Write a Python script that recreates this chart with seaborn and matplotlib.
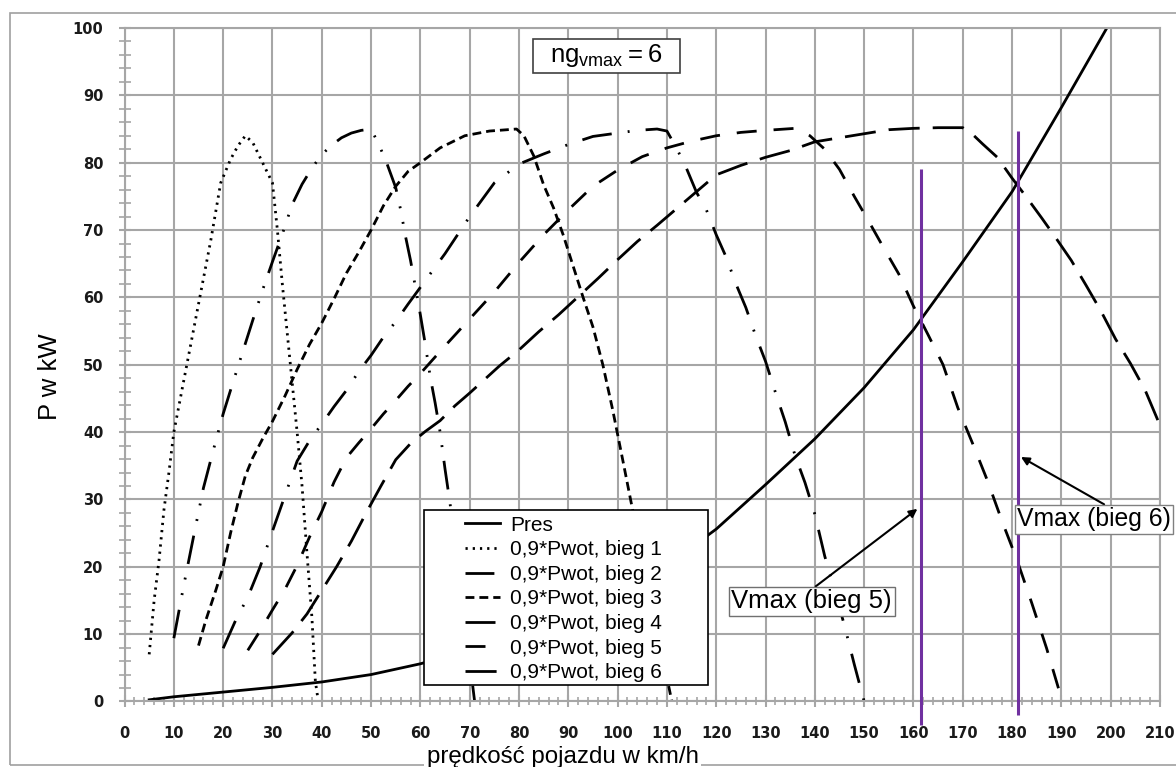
import matplotlib
matplotlib.use('Agg')
import matplotlib.pyplot as plt
from matplotlib.patches import Rectangle
from matplotlib.ticker import MultipleLocator
import seaborn as sns

plt.rcParams['font.family'] = ['Liberation Sans', 'DejaVu Sans']

# opory ruchu
v_pres = [5, 10, 20, 30, 40, 50, 60, 70, 80, 90, 100, 110, 120, 130, 140, 150, 160, 170, 180, 190, 200]
p_pres = [0.25, 0.7, 1.4, 2.1, 2.9, 4.0, 5.6, 7.6, 10, 12.8, 16.2, 20.2, 25.6, 32.2, 39, 46.6, 55.2, 65.3, 75.7, 88.2, 101]

# 0,9*Pwot dla kolejnych biegow
v_b1 = [5, 6, 7, 8, 9, 10, 12.5, 15, 17.5, 19.5, 21.5, 23, 24.5, 26, 28, 30, 31, 32, 33.5, 35, 36, 37, 38, 38.7, 39.3]
p_b1 = [7, 15, 21, 28.5, 34, 40, 49.5, 59, 68.5, 77, 80.5, 82.5, 84, 83, 80, 77, 70, 62, 51, 40, 32, 22, 12.5, 3, 0]

v_b2 = [10, 12, 14, 16, 18, 20, 22, 24, 26, 28, 30, 32, 34, 36, 38, 40, 42, 44, 46, 48, 50,
        51.5, 53, 55, 56, 57, 58, 59, 60, 61, 62, 63, 64, 65, 66, 68.5, 71]
p_b2 = [9.4, 17.2, 24.5, 31.7, 37.3, 42.7, 47.4, 52, 56.6, 61.1, 65.3, 69.4, 73.8, 76.8, 79.2, 81.2, 82.6, 83.7, 84.4, 84.8, 85,
        82.8, 80.3, 76.3, 73, 69, 65.5, 61.5, 57.4, 53, 48.2, 44.3, 40, 34.5, 29.5, 15, 0]

v_b3 = [15, 16.5, 18.5, 20, 21.5, 23, 24.5, 26, 28, 30, 32.5, 35, 37.5, 40, 42.5, 45, 47.5, 50, 52.5, 55, 57.5, 60,
        64, 69, 74, 79.5, 81, 83, 85, 87, 89, 91, 93, 95, 97, 99, 101, 103, 105, 107, 109, 111]
p_b3 = [8.3, 12.1, 16.5, 20, 25, 29.5, 33.5, 36.2, 39, 41.6, 45.3, 49.3, 53, 56.2, 59.8, 63.6, 66.7, 70, 73.6, 76.5, 78.7, 80,
        82.2, 84, 84.7, 85, 84, 81, 76.7, 73.3, 69.2, 64.6, 60, 55.6, 50, 43.3, 36, 28.6, 21.3, 14.2, 7.1, 0]

v_b4 = [20, 22.5, 25, 27.5, 30, 32.5, 35, 37.5, 40, 42.5, 45, 47.5, 50, 52.5, 55, 57.5, 60, 65, 70, 75, 80, 85, 90, 95,
        100, 104, 108, 110, 112, 114, 116, 118, 120, 122, 124, 126, 128, 130, 132, 134, 136, 138, 140, 142, 144, 146, 148, 150]
p_b4 = [7.9, 12, 15.5, 20, 25.3, 30.5, 35.7, 38.7, 41.2, 43.8, 46.2, 49, 51.4, 54.1, 56.4, 59, 61.5, 66.5, 72, 77, 79.8, 81.3, 82.7, 83.9,
        84.4, 84.8, 85, 84.7, 82.1, 79.1, 75.6, 73, 69.3, 66, 62, 58.5, 54.3, 50.5, 45.9, 41.5, 36.5, 32.5, 27.8, 21.6, 16.5, 11.3, 5.5, 0]

v_b5 = [25, 27.5, 30, 32.5, 35, 37.5, 40, 42.5, 45, 47.5, 50, 52.5, 55, 57.5, 60, 65, 70, 75, 80, 85, 90, 95, 100, 105, 110,
        115, 120, 125, 130, 136, 139, 142, 145, 148, 151, 154, 157, 160, 163, 166, 169, 172, 175, 178, 181, 184, 187, 190]
p_b5 = [7.6, 10.5, 13.6, 16.6, 20.2, 24.4, 28.2, 32.6, 36.2, 38.4, 40.5, 42.7, 44.7, 46.8, 48.7, 52.8, 56.8, 60.8, 65.2, 69.3, 73, 76.5, 78.9, 80.9, 82.2,
        83.2, 84, 84.5, 84.8, 85.1, 84, 82, 79, 75, 71.2, 67.3, 63.5, 58.7, 54.4, 50, 43.6, 38.3, 32.8, 26.7, 21, 14.6, 7.9, 0.5]

v_b6 = [30, 34, 37, 40, 43, 46, 49, 52, 55, 58, 61, 64, 67, 70, 73, 76, 80, 84, 88, 92, 96, 100, 104, 108, 112, 116, 120,
        125, 130, 135, 140, 145, 150, 155, 160, 165, 170, 172, 174, 177, 180, 183, 186, 189, 192, 195, 198, 201, 204, 207, 210]
p_b6 = [7, 10.2, 13, 16.5, 20, 23.8, 28, 32, 35.9, 38.3, 40.1, 41.7, 43.9, 45.8, 47.8, 49.8, 52.2, 54.9, 57.4, 60.1, 62.8, 65.6, 68.3, 70.7, 73.2, 75.7, 78.2,
        79.6, 80.8, 81.8, 83.1, 83.7, 84.3, 84.9, 85.1, 85.2, 85.2, 84.2, 82.8, 80.8, 77.7, 74.8, 71.8, 68.7, 65.5, 61.8, 58, 53.8, 50.2, 46.2, 41]

labels = ['Pres', '0,9*Pwot, bieg 1', '0,9*Pwot, bieg 2', '0,9*Pwot, bieg 3',
          '0,9*Pwot, bieg 4', '0,9*Pwot, bieg 5', '0,9*Pwot, bieg 6']

# predkosci maksymalne
vmax_v = [161.5, 181.2]
vmax_top = [79.1, 84.7]
vmax_bottom = [-3.5, -2.0]

series = [(v_pres, p_pres), (v_b1, p_b1), (v_b2, p_b2), (v_b3, p_b3),
          (v_b4, p_b4), (v_b5, p_b5), (v_b6, p_b6)]
styles = ['-',
          (0, (0.8, 1.8)),
          (0, (10.4, 5.4, 0.7, 5, 0.7, 5)),
          (0, (3.2, 1.8)),
          (0, (10.8, 5.8, 0.7, 5.8)),
          (0, (7.2, 6.1)),
          (0, (11.2, 4.7))]

fig, ax = plt.subplots(figsize=(11.76, 7.67), dpi=100)
fig.subplots_adjust(left=0.1059, right=0.9864, top=0.9635, bottom=0.0854)

grid_col = '#a6a6a6'

for (v, p), ls, lab in zip(series, styles, labels):
    sns.lineplot(x=v, y=p, ax=ax, color='black', linewidth=2,
                 linestyle=ls, label=lab, estimator=None, sort=False)

ax.vlines(vmax_v, vmax_bottom, vmax_top, colors='#7030a0', linewidth=2.2,
          clip_on=False, zorder=3)

ax.set_xlim(0, 210)
ax.set_ylim(0, 100)
ax.xaxis.set_major_locator(MultipleLocator(10))
ax.xaxis.set_minor_locator(MultipleLocator(2))
ax.yaxis.set_major_locator(MultipleLocator(10))
ax.yaxis.set_minor_locator(MultipleLocator(2))
ax.set_axisbelow(True)
ax.grid(which='major', color=grid_col, linewidth=1.5)
for s in ax.spines.values():
    s.set_color(grid_col)
    s.set_linewidth(1.5)

ax.tick_params(which='major', direction='inout', length=8.6, width=1.5, color=grid_col, labelsize=10.5)
ax.tick_params(axis='y', which='major', pad=11)
ax.tick_params(axis='x', which='major', pad=13.5)
ax.tick_params(axis='y', which='minor', direction='inout', length=8, width=1.2, color=grid_col)
ax.tick_params(axis='x', which='minor', direction='inout', length=6, width=1.2, color=grid_col)
for t in ax.get_xticklabels() + ax.get_yticklabels():
    t.set_fontfamily('DejaVu Sans')
    t.set_fontweight('bold')
    t.set_color('#1a1a1a')

ax.set_ylabel('P w kW', fontsize=18.5)
ax.yaxis.label.set_va('center')
ax.yaxis.set_label_coords(-0.072, 0.483)
ax.set_xlabel('prędkość pojazdu w km/h', fontsize=17.4,
              bbox=dict(boxstyle='square,pad=0.1', fc='white', ec='none'))
ax.xaxis.label.set_va('center')
ax.xaxis.set_label_coords(0.423, -0.083)

# legenda
ax.add_patch(Rectangle((0.2892, 0.0245), 0.2743, 0.2598, transform=ax.transAxes,
                       facecolor='white', edgecolor='black', linewidth=1.2,
                       zorder=4.5, clip_on=False))
leg = ax.legend(loc='upper left', bbox_to_anchor=(0.3288, 0.276), frameon=False,
                fontsize=15, borderpad=0, borderaxespad=0, handlelength=1.68,
                handletextpad=0.5, labelspacing=0.27)
leg.set_zorder(5)

# ramka z liczba biegow
ax.add_patch(Rectangle((82.8, 93.3), 29.8, 5.0, facecolor='white', edgecolor='#404040',
                       linewidth=1.2, zorder=5.5))
ax.text(97.7, 95.0, r'$\mathregular{ng_{vmax} = 6}$', ha='center', va='baseline',
        fontsize=18.5, zorder=6)

ax.annotate('Vmax (bieg 5)', xy=(160.8, 28.6), xytext=(139.35, 14.85), ha='center', va='center',
            fontsize=18.5, zorder=6, annotation_clip=False,
            bbox=dict(boxstyle='square,pad=0.1', fc='white', ec='#707070', lw=1),
            arrowprops=dict(arrowstyle='-|>', color='black', lw=1.5, relpos=(0.5, 1),
                            shrinkA=0, shrinkB=0, mutation_scale=12))
ax.annotate('Vmax (bieg 6)', xy=(181.8, 36.3), xytext=(181.0, 27.05), ha='left', va='center',
            fontsize=17.8, zorder=6, annotation_clip=False,
            bbox=dict(boxstyle='square,pad=0.1', fc='white', ec='#808080', lw=1),
            arrowprops=dict(arrowstyle='-|>', color='black', lw=1.5, relpos=(0.6, 1),
                            shrinkA=0, shrinkB=0, mutation_scale=12))

# ramka wykresu
fig.add_artist(Rectangle((0.0081, 0.0026), 1.0, 0.9801, transform=fig.transFigure,
                         fill=False, edgecolor='#a0a0a0', linewidth=1.2, zorder=-1))

plt.savefig('out.png', dpi=100)
